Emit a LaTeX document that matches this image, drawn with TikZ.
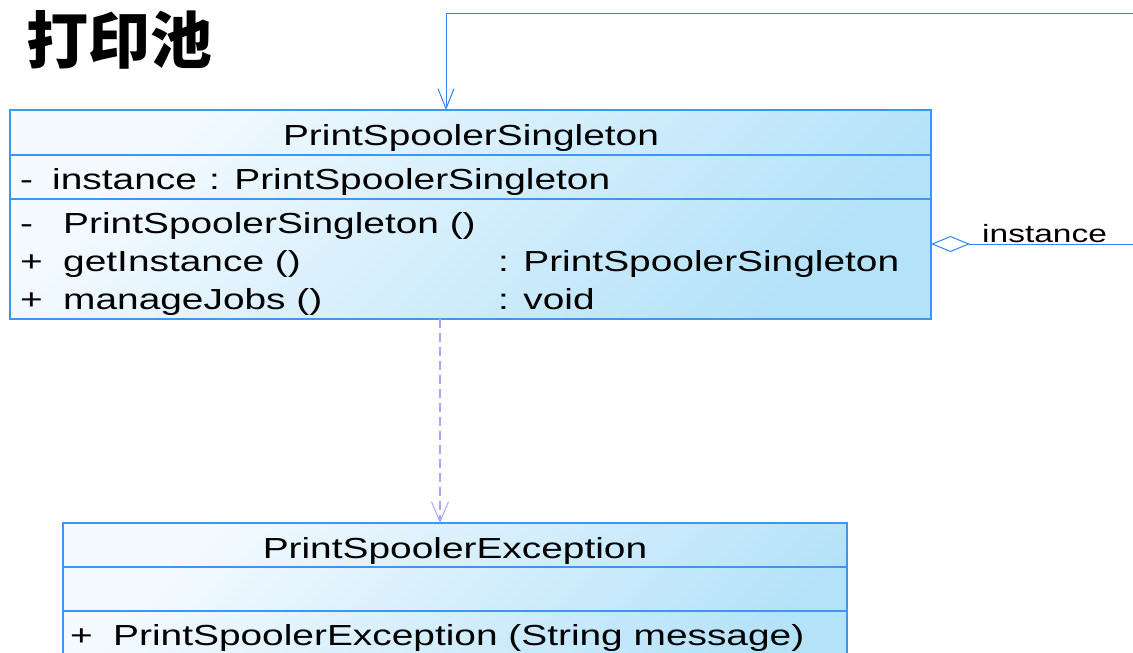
\documentclass[tikz,border=0pt]{standalone}
\usepackage{fontspec}
\setmainfont{Liberation Sans}
\newfontfamily\umlfont{Liberation Sans}[FakeStretch=1.34]
\newfontfamily\cjkfont{Noto Sans CJK SC}
\usetikzlibrary{arrows.meta}

\definecolor{umlborder}{HTML}{3A98F2}
\definecolor{umlline}{HTML}{2A85F5}
\definecolor{depline}{HTML}{A6A6FF}
\definecolor{fillA}{HTML}{F4FAFF}
\definecolor{fillB}{HTML}{B4E2F9}

\begin{document}
\begin{tikzpicture}[x=1pt,y=-1pt,
  classbox/.style={draw=umlborder, line width=1.1pt, top color=fillA, bottom color=fillB,
    shading angle=45, inner sep=0pt, outer sep=0pt},
  sepline/.style={draw=umlborder, line width=1.1pt},
  member/.style={anchor=base west, inner sep=0pt, text=black,
    font=\umlfont\fontsize{29}{34}\selectfont},
  classname/.style={anchor=base, inner sep=0pt, text=black,
    font=\umlfont\fontsize{29}{34}\selectfont},
  rolename/.style={anchor=base west, inner sep=0pt, text=black,
    font=\umlfont\fontsize{25}{30}\selectfont},
  assoc/.style={draw=umlline, line width=1pt},
  depend/.style={draw=depline, line width=1.5pt, dash pattern=on 9pt off 5pt},
  openhead/.style={-{Straight Barb[length=20pt,width=17pt,line width=1pt]}},
]
\useasboundingbox[fill=white] (0,0) rectangle (1133,653);

% heading
\node[anchor=base west, inner sep=0pt, font=\cjkfont\bfseries\fontsize{62}{70}\selectfont]
  (heading) at (26,63) {打印池};

% ---- class PrintSpoolerSingleton ----
\node[classbox, minimum width=921pt, minimum height=209pt] (single) at (470.5,214.5) {};
\draw[sepline] (single.west |- 0,155) -- (single.east |- 0,155);
\draw[sepline] (single.west |- 0,199) -- (single.east |- 0,199);

\node[classname] (sname) at (471,145) {PrintSpoolerSingleton};

\node[member] (avis) at (20,189) {-};
\node[member] (aname) at (52,189) {instance};
\node[member] (atype) at (209,189) {: PrintSpoolerSingleton};

\node[member] (m1vis) at (20,233) {-};
\node[member] (m1name) at (63,233) {PrintSpoolerSingleton ()};
\node[member] (m2vis) at (20,271) {+};
\node[member] (m2name) at (63,271) {getInstance ()};
\node[member] (m2type) at (498,271) {: PrintSpoolerSingleton};
\node[member] (m3vis) at (20,309) {+};
\node[member] (m3name) at (63,309) {manageJobs ()};
\node[member] (m3type) at (498,309) {: void};

% ---- class PrintSpoolerException ----
\node[classbox, minimum width=784pt, minimum height=180pt] (exc) at (455,613) {};
\draw[sepline] (exc.west |- 0,567) -- (exc.east |- 0,567);
\draw[sepline] (exc.west |- 0,611) -- (exc.east |- 0,611);

\node[classname] (ename) at (455,558) {PrintSpoolerException};
\node[member] (e1vis) at (70,645) {+};
\node[member] (e1name) at (113,645) {PrintSpoolerException (String message)};

% self association: instance
\coordinate (loopA) at (1150,244);
\coordinate (loopB) at (1150,13);
\coordinate (loopC) at (446,13);
\draw[assoc, {Diamond[open,length=39pt,width=16pt,line width=1pt]}-{Straight Barb[length=20pt,width=16pt,line width=1pt]}]
  (single.east |- loopA) -- (loopA) -- (loopB) -- (loopC) -- (single.north -| loopC);
\node[rolename] (role) at (982,242) {instance};

% dependency on the exception
\coordinate (depx) at (440,0);
\draw[depend, openhead] (single.south -| depx) -- (exc.north -| depx);
\end{tikzpicture}
\end{document}
